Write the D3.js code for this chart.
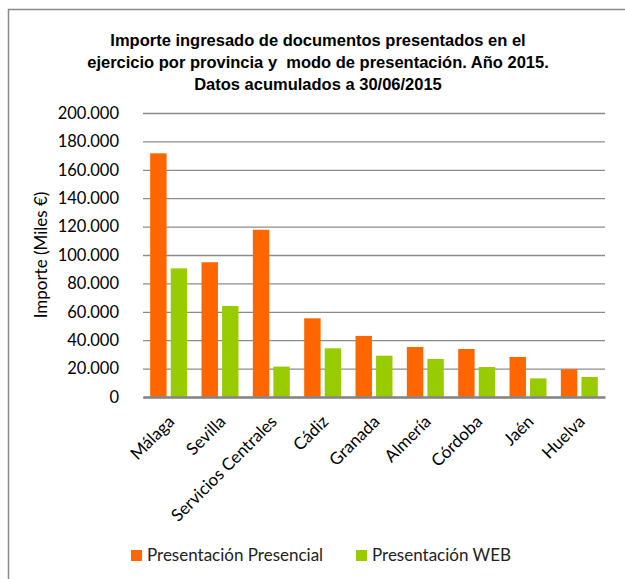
<!DOCTYPE html>
<html>
<head>
<meta charset="utf-8">
<script src="https://cdn.jsdelivr.net/npm/d3@7"></script>
<style>
  body { margin: 0; background: #fff; }
  svg { display: block; }
</style>
</head>
<body>
<div id="chart"></div>
<script>
// data
var provincias = ["Málaga", "Sevilla", "Servicios Centrales", "Cádiz", "Granada", "Almería", "Córdoba", "Jaén", "Huelva"];
var presencial = [171600, 94900, 117800, 55400, 43000, 35200, 33800, 28200, 19500];
var web = [90600, 64100, 21400, 34300, 29100, 26800, 21100, 13100, 14100];
var seriesNames = ["Presentación Presencial", "Presentación WEB"];
var seriesColors = ["#ff6600", "#99cc00"];
var yTicks = [0, 20000, 40000, 60000, 80000, 100000, 120000, 140000, 160000, 180000, 200000];
var titleLines = ["Importe ingresado de documentos presentados en el",
                  "ejercicio por provincia y  modo de presentación. Año 2015.",
                  "Datos acumulados a 30/06/2015"];

var W = 625, H = 579;
var margin = {top: 113, right: 20, bottom: 182, left: 143},
  width = W - margin.left - margin.right,
  height = H - margin.top - margin.bottom;

var bodyFont = "Lato, 'Open Sans', sans-serif";

var svg = d3.select("#chart")
  .append("svg")
    .attr("width", W)
    .attr("height", H);

// outer frame (only left and top visible)
svg.append("path")
  .attr("d", "M8.5," + H + "V9.5H" + W)
  .attr("fill", "none")
  .attr("stroke", "#8a8a8a")
  .attr("stroke-width", 1.5);

// title
svg.append("g").selectAll("text")
  .data(titleLines)
  .enter()
  .append("text")
    .attr("x", 318)
    .attr("y", function(d, i) { return 46 + i * 22; })
    .attr("text-anchor", "middle")
    .style("white-space", "pre")
    .style("font-family", "'Liberation Sans Narrow', 'Arial Narrow', sans-serif")
    .style("font-weight", "bold")
    .style("font-size", "16.5px")
    .text(function(d) { return d; });

var g = svg.append("g")
  .attr("transform", "translate(" + margin.left + "," + margin.top + ")");

// scales
var x0 = d3.scaleBand()
  .domain(provincias)
  .range([0, width])
  .padding(0);

var x1 = d3.scaleBand()
  .domain(seriesNames)
  .range([0, x0.bandwidth()])
  .paddingInner(0.2)
  .paddingOuter(0.35);

var y = d3.scaleLinear()
  .domain([0, 200000])
  .range([height, 0]);

var fmt = function(v) { return d3.format(",")(v).replace(/,/g, "."); };

// gridlines
g.append("g")
  .call(d3.axisLeft(y).tickValues(yTicks).tickSize(-width).tickFormat(""))
  .call(function(s) { s.select(".domain").remove(); })
  .selectAll("line")
    .attr("stroke", "#8c8c8c")
    .attr("stroke-width", 1.3);

// y axis labels
var yAxis = g.append("g")
  .call(d3.axisLeft(y).tickValues(yTicks).tickSize(0).tickPadding(24).tickFormat(fmt));
yAxis.select(".domain").remove();
yAxis.selectAll("text")
  .style("font-family", bodyFont)
  .style("font-size", "16.5px")
  .attr("fill", "#000");

// y axis title
g.append("text")
  .attr("transform", "translate(" + (-96) + "," + (height / 2) + ") rotate(-90)")
  .attr("text-anchor", "middle")
  .style("font-family", bodyFont)
  .style("font-size", "17px")
  .text("Importe (Miles €)");

// bars
var rows = provincias.map(function(p, i) {
  return {prov: p, vals: [
    {name: seriesNames[0], value: presencial[i], color: seriesColors[0]},
    {name: seriesNames[1], value: web[i], color: seriesColors[1]}
  ]};
});

g.append("g").selectAll("g")
  .data(rows)
  .enter()
  .append("g")
    .attr("transform", function(d) { return "translate(" + x0(d.prov) + ",0)"; })
  .selectAll("rect")
  .data(function(d) { return d.vals; })
  .enter()
  .append("rect")
    .attr("x", function(d) { return x1(d.name); })
    .attr("y", function(d) { return y(d.value); })
    .attr("width", x1.bandwidth())
    .attr("height", function(d) { return height - y(d.value); })
    .attr("fill", function(d) { return d.color; });

// x axis
var xAxis = g.append("g")
  .attr("transform", "translate(0," + height + ")")
  .call(d3.axisBottom(x0).tickSize(0));
xAxis.select(".domain")
  .attr("stroke", "#868686")
  .attr("stroke-width", 2.5);
xAxis.selectAll("text")
  .style("font-family", bodyFont)
  .style("font-size", "17px")
  .attr("fill", "#000")
  .attr("text-anchor", "end")
  .attr("y", 0)
  .attr("dy", "0.35em")
  .attr("transform", "translate(2.5,21.5) rotate(-45)");

// legend
var legend = svg.append("g")
  .attr("transform", "translate(131," + 555 + ")");
var legX = [0, 225];
var li = legend.selectAll("g")
  .data(seriesNames)
  .enter()
  .append("g")
    .attr("transform", function(d, i) { return "translate(" + legX[i] + ",0)"; });
li.append("rect")
  .attr("x", 0)
  .attr("y", -5)
  .attr("width", 11)
  .attr("height", 11)
  .attr("fill", function(d, i) { return seriesColors[i]; });
li.append("text")
  .attr("x", 16)
  .attr("y", 0)
  .attr("dy", "0.35em")
  .style("font-family", bodyFont)
  .style("font-size", "17px")
  .attr("fill", "#222")
  .text(function(d) { return d; });
</script>
</body>
</html>
